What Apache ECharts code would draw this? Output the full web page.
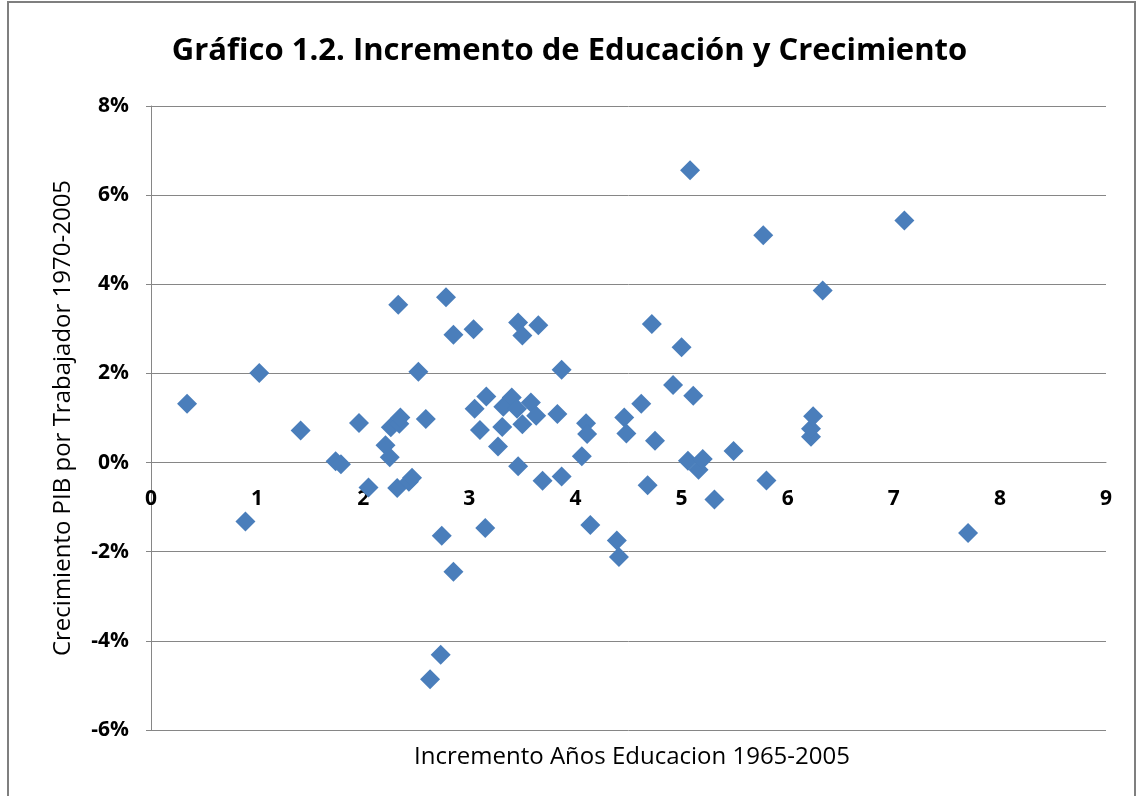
<!DOCTYPE html>
<html>
<head>
<meta charset="utf-8">
<title>Gráfico 1.2</title>
<script src="https://cdn.jsdelivr.net/npm/echarts@6/dist/echarts.min.js"></script>
<style>
  html, body { margin: 0; padding: 0; background: #fff; }
  #chart { width: 1139px; height: 796px; }
</style>
</head>
<body>
<div id="chart"></div>
<script>
// increase in years of education 1965-2005 (x) and GDP per worker growth 1970-2005 in % (y)
const eduIncrease = [
  0.34, 0.89, 1.02, 1.41, 1.74, 1.79, 1.96, 2.05, 2.21, 2.25,
  2.26, 2.34, 2.35, 2.33, 2.32, 2.43, 2.46, 2.52, 2.59, 2.63,
  2.73, 2.74, 2.78, 2.85, 2.85, 3.04, 3.05, 3.10, 3.16, 3.15,
  3.27, 3.31, 3.32, 3.40, 3.45, 3.46, 3.50, 3.46, 3.50, 3.58,
  3.63, 3.65, 3.69, 3.83, 3.87, 3.87, 4.06, 4.10, 4.11, 4.14,
  4.39, 4.41, 4.46, 4.48, 4.62, 4.68, 4.72, 4.75, 4.92, 5.00,
  5.06, 5.08, 5.11, 5.16, 5.20, 5.31, 5.49, 5.77, 5.80, 6.22,
  6.22, 6.24, 6.33, 7.10, 7.70
]
const gdpGrowth = [
  1.32, -1.32, 2.01, 0.72, 0.03, -0.04, 0.89, -0.56, 0.39, 0.12,
  0.79, 0.87, 1.01, 3.54, -0.57, -0.43, -0.34, 2.04, 0.98, -4.86,
  -4.31, -1.64, 3.71, 2.87, -2.45, 2.99, 1.21, 0.73, 1.48, -1.47,
  0.36, 0.80, 1.25, 1.46, 1.21, 3.14, 2.85, -0.08, 0.86, 1.35,
  1.05, 3.08, -0.41, 1.09, -0.31, 2.08, 0.14, 0.88, 0.64, -1.40,
  -1.75, -2.12, 1.01, 0.65, 1.32, -0.51, 3.11, 0.49, 1.74, 2.59,
  0.04, 6.56, 1.50, -0.16, 0.08, -0.83, 0.26, 5.10, -0.40, 0.58,
  0.76, 1.04, 3.86, 5.43, -1.58
]

const chartTitle = 'Gráfico 1.2. Incremento de Educación y Crecimiento'
const xName = 'Incremento Años Educacion 1965-2005'
const yName = 'Crecimiento PIB por Trabajador 1970-2005'

const font = '"Open Sans", "DejaVu Sans", sans-serif'
const gridColor = '#868686'

const chart = echarts.init(document.getElementById('chart'))

chart.setOption({
  backgroundColor: '#fff',
  animation: false,
  textStyle: { fontFamily: font },
  graphic: [{
    type: 'rect',
    shape: { x: 8, y: 2, width: 1127, height: 800 },
    style: { fill: 'none', stroke: '#7f7f7f', lineWidth: 2 },
    silent: true
  }],
  title: [{
    text: chartTitle,
    left: 'center',
    top: 31,
    textStyle: { fontFamily: font, fontSize: 31, fontWeight: 'bold', color: '#000' }
  }, {
    text: xName,
    left: 627,
    textAlign: 'center',
    top: 740,
    textStyle: { fontFamily: font, fontSize: 24, fontWeight: 'normal', color: '#000' }
  }],
  grid: { left: 151, right: 33, top: 106, bottom: 66 },
  xAxis: {
    type: 'value',
    min: 0,
    max: 9,
    interval: 1,
    position: 'bottom',
    // the axis crosses at 0%: (730 - 462) px above the plot bottom
    offset: -268,
    axisLine: { onZero: false, lineStyle: { color: gridColor, width: 1 } },
    axisTick: { show: false },
    splitLine: { show: false },
    axisLabel: {
      margin: 27,
      color: '#000',
      fontFamily: font,
      fontSize: 21,
      fontWeight: 'bold'
    }
  },
  yAxis: {
    type: 'value',
    min: -6,
    max: 8,
    interval: 2,
    name: yName,
    nameLocation: 'middle',
    nameGap: 76,
    nameTextStyle: { fontFamily: font, fontSize: 24, color: '#000' },
    axisLine: { show: true, lineStyle: { color: gridColor, width: 1 } },
    axisTick: { show: true, length: 5, lineStyle: { color: gridColor } },
    splitLine: { lineStyle: { color: gridColor, width: 1 } },
    axisLabel: {
      formatter: '{value}%',
      margin: 22,
      color: '#000',
      fontFamily: font,
      fontSize: 21,
      fontWeight: 'bold'
    }
  },
  series: [{
    type: 'scatter',
    symbol: 'diamond',
    symbolSize: 20,
    itemStyle: { color: '#4a7ebb', opacity: 1 },
    data: eduIncrease.map((x, i) => [x, gdpGrowth[i]])
  }]
})
</script>
</body>
</html>
